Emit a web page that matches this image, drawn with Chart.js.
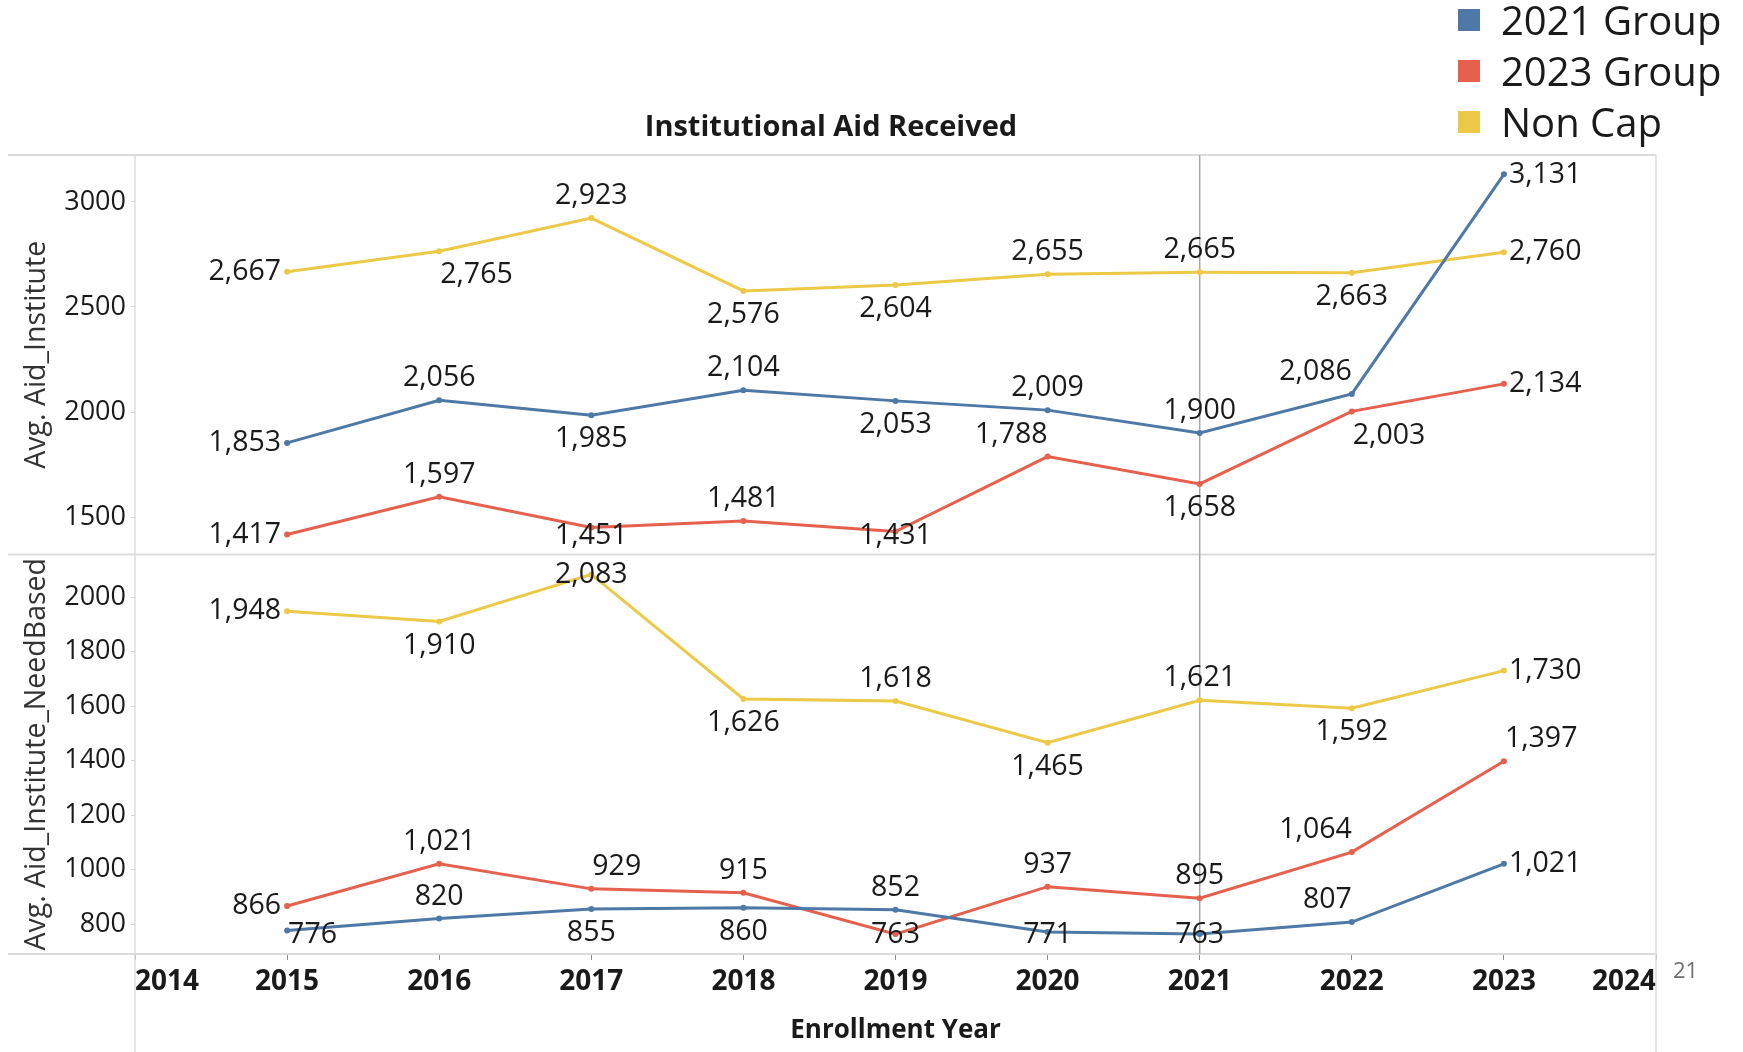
<!DOCTYPE html>
<html>
<head>
<meta charset="utf-8">
<title>Institutional Aid Received</title>
<script src="https://cdn.jsdelivr.net/npm/chart.js@4.4.1/dist/chart.umd.min.js"></script>
<style>
  html, body { margin: 0; padding: 0; background: #fff; }
  #page { position: relative; width: 1743px; height: 1052px; overflow: hidden; font-family: 'Open Sans', sans-serif; color: #1a1a1a; }
  #aidChart { position: absolute; left: 0; top: 0; }
  #chartTitle { position: absolute; left: 581px; width: 500px; top: 108px; line-height: 34px; text-align: center; font-size: 29px; font-weight: 700; }
  #legend { position: absolute; left: 1458px; top: -6px; }
  #legend .item { display: flex; align-items: center; height: 51px; font-size: 40px; }
  #legend .swatch { width: 22px; height: 22px; margin-right: 21px; flex: none; }
  #pageNum { position: absolute; left: 1673px; top: 956px; line-height: 26px; font-size: 22px; color: #6e6e6e; }
</style>
</head>
<body>
<div id="page">
  <canvas id="aidChart" width="1743" height="1052"></canvas>
  <div id="chartTitle">Institutional Aid Received</div>
  <div id="legend"></div>
  <div id="pageNum">21</div>
</div>
<script>
// Values
const years = [2015, 2016, 2017, 2018, 2019, 2020, 2021, 2022, 2023];
const seriesNames = ['2021 Group', '2023 Group', 'Non Cap'];
const seriesColors = ['#4e79a7', '#e6604e', '#edc948'];

// Avg. Aid_Institute
const aidInstitute2021 = [1853, 2056, 1985, 2104, 2053, 2009, 1900, 2086, 3131];
const aidInstitute2023 = [1417, 1597, 1451, 1481, 1431, 1788, 1658, 2003, 2134];
const aidInstituteNonCap = [2667, 2765, 2923, 2576, 2604, 2655, 2665, 2663, 2760];

// Avg. Aid_Institute_NeedBased
const needBased2021 = [776, 820, 855, 860, 852, 771, 763, 807, 1021];
const needBased2023 = [866, 1021, 929, 915, 763, 937, 895, 1064, 1397];
const needBasedNonCap = [1948, 1910, 2083, 1626, 1618, 1465, 1621, 1592, 1730];

const xTicks = [2014, 2015, 2016, 2017, 2018, 2019, 2020, 2021, 2022, 2023, 2024];
const topTicks = [1500, 2000, 2500, 3000];
const bottomTicks = [800, 1000, 1200, 1400, 1600, 1800, 2000];
const topRange = [1322, 3223];
const bottomRange = [690, 2156];
const referenceYear = 2021;

// where each value label sits relative to its point
const topSpots2021 = ['left', 'above', 'below', 'above', 'below', 'above', 'above', 'aboveLeft', 'right'];
const topSpots2023 = ['left', 'above', 'below', 'above', 'below', 'aboveLeft', 'below', 'belowRight', 'right'];
const topSpotsNonCap = ['left', 'belowRight', 'above', 'below', 'below', 'above', 'above', 'below', 'right'];
const bottomSpots2021 = ['belowRight', 'above', 'below', 'below', 'above', 'below', 'below', 'aboveLeft', 'right'];
const bottomSpots2023 = ['left', 'above', 'aboveRight', 'above', 'below', 'above', 'above', 'aboveLeft', 'aboveRight'];
const bottomSpotsNonCap = ['left', 'below', 'above', 'below', 'above', 'below', 'above', 'below', 'right'];

Chart.defaults.font.family = "'Open Sans', sans-serif";
Chart.defaults.color = '#1a1a1a';

function series(values, idx, axisId, spots) {
    return {
        label: seriesNames[idx],
        data: years.map((yr, i) => ({ x: yr, y: values[i] })),
        yAxisID: axisId,
        borderColor: seriesColors[idx],
        backgroundColor: seriesColors[idx],
        borderWidth: 3,
        pointRadius: 3,
        pointBorderWidth: 0,
        pointHoverRadius: 3,
        tension: 0,
        labelSpots: spots
    };
}

// light pane borders plus the 2021 reference line
const paneFrame = {
    id: 'paneFrame',
    beforeDatasetsDraw(chart) {
        const { ctx, chartArea: area, scales } = chart;
        const line = (x1, y1, x2, y2) => {
            ctx.beginPath();
            ctx.moveTo(x1, y1);
            ctx.lineTo(x2, y2);
            ctx.stroke();
        };
        ctx.save();
        ctx.strokeStyle = '#dcdcdc';
        ctx.lineWidth = 2;
        [area.top, scales.yTop.bottom, area.bottom].forEach(y => line(8, y, area.right, y));
        ctx.lineWidth = 1.5;
        [area.left, area.right].forEach(x => line(x, area.top, x, chart.height));
        const refX = scales.x.getPixelForValue(referenceYear);
        ctx.strokeStyle = '#a8a8a8';
        ctx.lineWidth = 1.5;
        line(refX, area.top, refX, area.bottom);
        ctx.restore();
    }
};

// value labels next to every point, kept inside their own pane
const valueLabels = {
    id: 'valueLabels',
    afterDatasetsDraw(chart) {
        const ctx = chart.ctx;
        ctx.save();
        ctx.font = "28.5px 'Open Sans', sans-serif";
        ctx.fillStyle = '#1a1a1a';
        ctx.textBaseline = 'middle';
        chart.data.datasets.forEach((ds, i) => {
            const meta = chart.getDatasetMeta(i);
            const scale = chart.scales[ds.yAxisID];
            meta.data.forEach((pt, j) => {
                const spot = ds.labelSpots[j];
                let x = pt.x, y = pt.y, align = 'center';
                if (spot === 'left') {
                    x -= 6; align = 'right';
                } else if (spot === 'right') {
                    x += 5; align = 'left';
                } else {
                    y += spot.startsWith('above') ? -22 : 24;
                    if (spot.endsWith('Left')) align = 'right';
                    if (spot.endsWith('Right')) { align = 'left'; x += 1; }
                }
                y = Math.min(Math.max(y, scale.top + 20), scale.bottom - 19);
                ctx.textAlign = align;
                ctx.fillText(ds.data[j].y.toLocaleString('en-US'), x, y);
            });
        });
        ctx.restore();
    }
};

function valueAxis(range, ticks, title, weight) {
    return {
        type: 'linear',
        position: 'left',
        stack: 'panes',
        stackWeight: 1,
        weight: weight,
        min: range[0],
        max: range[1],
        afterBuildTicks: s => { s.ticks = ticks.map(v => ({ value: v })); },
        afterFit: s => { s.width = 135; },
        border: { display: false },
        grid: { drawOnChartArea: false, tickLength: 4, color: '#d4d4d4' },
        ticks: { padding: 5, color: '#1a1a1a', font: { size: 27 }, callback: v => String(v) },
        title: { display: true, text: title, color: '#333', font: { size: 28.5 }, padding: { top: 20, bottom: 0 } }
    };
}

// HTML legend
const legendBox = document.getElementById('legend');
seriesNames.forEach((name, i) => {
    const item = document.createElement('div');
    item.className = 'item';
    item.innerHTML = '<span class="swatch" style="background:' + seriesColors[i] + '"></span><span>' + name + '</span>';
    legendBox.appendChild(item);
});

const ctx = document.getElementById('aidChart').getContext('2d');
const chart = new Chart(ctx, {
    type: 'line',
    data: {
        datasets: [
            series(aidInstitute2021, 0, 'yTop', topSpots2021),
            series(aidInstitute2023, 1, 'yTop', topSpots2023),
            series(aidInstituteNonCap, 2, 'yTop', topSpotsNonCap),
            series(needBased2021, 0, 'yBottom', bottomSpots2021),
            series(needBased2023, 1, 'yBottom', bottomSpots2023),
            series(needBasedNonCap, 2, 'yBottom', bottomSpotsNonCap)
        ]
    },
    options: {
        responsive: false,
        animation: false,
        devicePixelRatio: 1,
        layout: { padding: { top: 155, right: 87, bottom: 0, left: 0 } },
        plugins: {
            legend: { display: false },
            tooltip: { enabled: false }
        },
        scales: {
            x: {
                type: 'linear',
                min: xTicks[0],
                max: xTicks[xTicks.length - 1],
                afterBuildTicks: s => { s.ticks = xTicks.map(v => ({ value: v })); },
                afterFit: s => { s.height = 98; },
                border: { display: false },
                grid: { drawOnChartArea: false, tickLength: 6, color: '#8c8c8c' },
                ticks: {
                    align: 'inner',
                    autoSkip: false,
                    maxRotation: 0,
                    padding: 5,
                    color: '#1a1a1a',
                    font: { size: 28, weight: 'bold' },
                    callback: v => String(v)
                },
                title: {
                    display: true,
                    text: 'Enrollment Year',
                    color: '#1a1a1a',
                    font: { size: 26, weight: 'bold' },
                    padding: { top: 0, bottom: 6 }
                }
            },
            yBottom: valueAxis(bottomRange, bottomTicks, 'Avg. Aid_Institute_NeedBased', 0),
            yTop: valueAxis(topRange, topTicks, 'Avg. Aid_Institute', 1)
        }
    },
    plugins: [paneFrame, valueLabels]
});
</script>
</body>
</html>
